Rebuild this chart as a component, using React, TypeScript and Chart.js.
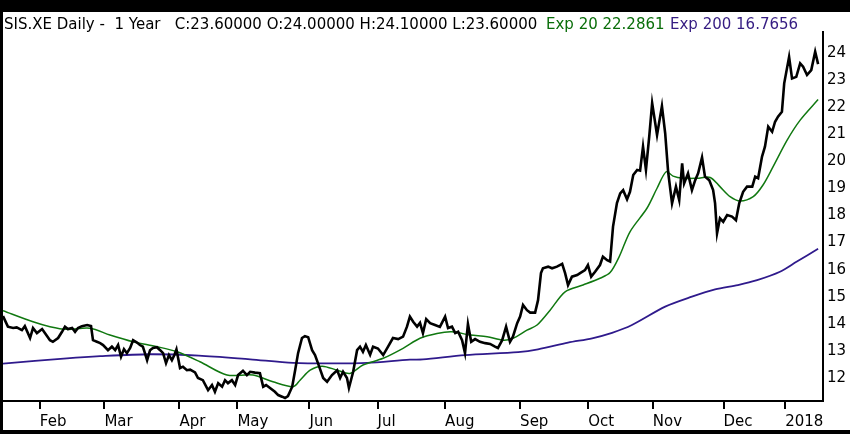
import { useEffect, useRef } from "react";
import Chart from "chart.js/auto";

// trading-day index (0 = first bar of the year window) and close price
const closeDay = [
  0, 1.5, 3.1, 4.2, 5.8, 6.7, 8.3, 9.2, 10.4, 12.0, 12.9, 14.4, 15.3, 16.9, 18.1,
  19.0, 19.9, 21.2, 22.1, 23.0, 24.2, 25.8, 27.0, 27.6, 28.8, 29.8, 30.7, 32.2,
  33.4, 34.4, 35.3, 36.2, 37.1, 38.0, 39.0, 39.9, 41.1, 42.0, 42.9, 44.2, 45.1,
  46.0, 47.2, 48.2, 49.1, 50.0, 50.9, 51.8, 52.6, 53.2, 54.3, 55.2, 56.4, 57.4,
  58.9, 59.8, 61.3, 62.9, 64.1, 65.0, 66.0, 67.2, 68.1, 69.0, 70.2, 71.2, 72.1,
  73.6, 74.8, 75.8, 77.3, 78.8, 79.8, 80.7, 81.9, 83.4, 84.4, 85.6, 86.5, 87.4,
  88.7, 89.6, 90.5, 91.7, 92.6, 93.6, 94.8, 95.7, 96.6, 98.2, 99.4, 100.9, 102.5,
  103.4, 104.3, 105.5, 106.1, 107.4, 108.6, 109.5, 110.4, 111.3, 112.6, 113.5,
  115.0, 116.6, 118.1, 119.6, 121.2, 122.7, 123.9, 124.8, 125.8, 127.0, 127.9,
  128.8, 129.8, 131.0, 132.5, 134.0, 135.6, 136.5, 137.7, 138.7, 139.6, 140.8,
  141.7, 142.6, 143.6, 144.8, 146.3, 147.9, 149.4, 150.9, 151.8, 153.1, 154.3,
  155.5, 156.4, 157.7, 158.6, 159.5, 160.7, 161.7, 163.2, 164.1, 165.0, 165.6,
  167.2, 168.4, 169.9, 171.5, 172.4, 173.3, 174.5, 176.1, 177.0, 178.5, 179.4,
  180.4, 181.6, 183.1, 184.0, 185.3, 186.2, 187.1, 188.3, 189.3, 190.2, 191.4,
  192.3, 193.3, 194.5, 195.4, 196.3, 197.2, 198.2, 199.1, 200.6, 201.2, 202.1,
  203.1, 204.0, 205.2, 206.4, 207.4, 208.3, 208.9, 210.1, 211.3, 212.3, 213.2,
  214.4, 215.3, 216.6, 217.8, 218.4, 219.0, 219.9, 220.9, 222.1, 223.6, 224.8,
  225.8, 227.0, 228.2, 229.8, 230.7, 231.6, 232.8, 233.7, 234.7, 235.9, 236.8,
  237.7, 238.9, 239.6, 241.1, 242.0, 243.3, 244.5, 245.4, 246.6, 247.9, 249.1,
  250.0,
];
const closeValue = [
  14.28, 13.89, 13.84, 13.86, 13.76, 13.91, 13.47, 13.84, 13.65, 13.8, 13.65,
  13.39, 13.33, 13.47, 13.7, 13.89, 13.8, 13.84, 13.7, 13.84, 13.91, 13.95, 13.91,
  13.39, 13.33, 13.28, 13.21, 13.02, 13.15, 13.02, 13.21, 12.78, 13.06, 12.91,
  13.1, 13.39, 13.3, 13.21, 13.15, 12.65, 13.02, 13.1, 13.13, 13.02, 12.91, 12.54,
  12.84, 12.65, 12.85, 13.05, 12.36, 12.41, 12.28, 12.3, 12.2, 11.99, 11.91, 11.54,
  11.73, 11.48, 11.8, 11.67, 11.91, 11.8, 11.91, 11.73, 12.1, 12.26, 12.1, 12.22,
  12.19, 12.17, 11.67, 11.73, 11.62, 11.48, 11.36, 11.3, 11.25, 11.32, 11.67,
  12.28, 12.91, 13.47, 13.54, 13.5, 13.02, 12.84, 12.54, 11.99, 11.85, 12.1, 12.28,
  11.99, 12.22, 11.99, 11.62, 12.22, 13.02, 13.15, 12.96, 13.21, 12.85, 13.15,
  13.08, 12.84, 13.15, 13.47, 13.43, 13.52, 13.89, 14.26, 14.07, 13.89, 14.03,
  13.65, 14.17, 14.02, 13.95, 13.88, 14.26, 13.84, 13.89, 13.65, 13.7, 13.39,
  12.91, 13.99, 13.33, 13.43, 13.33, 13.28, 13.25, 13.15, 13.1, 13.39, 13.89,
  13.33, 13.52, 14.02, 14.26, 14.69, 14.5, 14.41, 14.41, 14.87, 15.87, 16.05,
  16.11, 16.05, 16.11, 16.21, 15.87, 15.43, 15.74, 15.8, 15.87, 15.98, 16.17,
  15.74, 15.92, 16.17, 16.48, 16.35, 16.3, 17.59, 18.46, 18.82, 18.94, 18.6, 18.88,
  19.5, 19.69, 19.66, 20.55, 19.69, 20.92, 22.16, 20.98, 21.41, 22.05, 21.04,
  19.62, 18.45, 19.07, 18.57, 19.93, 19.19, 19.56, 18.94, 19.31, 19.56, 20.15,
  19.44, 19.31, 18.94, 18.45, 17.34, 17.9, 17.77, 18.02, 17.96, 17.83, 18.45,
  18.88, 19.07, 19.07, 19.44, 19.38, 20.18, 20.55, 21.29, 21.1, 21.47, 21.66,
  21.84, 22.89, 23.87, 23.07, 23.13, 23.63, 23.51, 23.2, 23.38, 24.06, 23.6,
];

const ema20Day = [
  0, 9.2, 14.4, 19.6, 26.7, 32.8, 39.9, 47.2, 53.4, 60.4, 68.7, 76.7, 82.8, 89.0,
  91.1, 94.2, 97.9, 102.5, 106.4, 110.4, 116.6, 122.7, 127.9, 133.1, 137.7, 143.3,
  148.5, 153.4, 156.4, 160.7, 163.8, 167.8, 172.4, 177.9, 183.1, 186.2, 189.0,
  192.3, 197.5, 200.6, 203.4, 205.5, 208.6, 212.9, 216.9, 219.9, 223.0, 226.1,
  230.1, 233.1, 236.2, 240.5, 244.5, 250.0,
];
const ema20Value = [
  14.48, 14.07, 13.89, 13.79, 13.83, 13.58, 13.33, 13.15, 12.96, 12.59, 12.1, 12.1,
  11.85, 11.67, 11.91, 12.28, 12.43, 12.28, 12.16, 12.47, 12.72, 13.09, 13.46,
  13.64, 13.7, 13.58, 13.52, 13.39, 13.46, 13.76, 13.95, 14.5, 15.18, 15.43, 15.68,
  15.89, 16.48, 17.4, 18.27, 19.01, 19.62, 19.46, 19.38, 19.38, 19.41, 19.07, 18.7,
  18.54, 18.7, 19.13, 19.81, 20.79, 21.53, 22.29,
];

const ema200Day = [
  0, 19.6, 29.8, 45.1, 60.1, 75.8, 89.0, 101.2, 111.7, 124.8, 128.8, 141.7, 158.0,
  164.1, 173.3, 180.7, 186.8, 192.9, 203.1, 211.3, 218.4, 225.4, 231.3, 238.3,
  243.5, 250.0,
];
const ema200Value = [
  12.52, 12.72, 12.8, 12.87, 12.82, 12.68, 12.55, 12.53, 12.55, 12.67, 12.68,
  12.84, 12.95, 13.05, 13.3, 13.46, 13.66, 13.95, 14.63, 15.0, 15.27, 15.43, 15.61,
  15.92, 16.3, 16.77,
];

const monthTickDay = [11.3, 31.1, 54.1, 71.9, 94.0, 114.9, 135.6, 158.6, 179.5, 199.3, 221.0, 239.9];
const monthLabel = ["Feb", "Mar", "Apr", "May", "Jun", "Jul", "Aug", "Sep", "Oct", "Nov", "Dec", "2018"];
const priceTicks = [12, 13, 14, 15, 16, 17, 18, 19, 20, 21, 22, 23, 24];

const headerParts = [
  { text: "SIS.XE Daily -  1 Year   C:23.60000 O:24.00000 H:24.10000 L:23.60000", color: "#000000", x: 1 },
  { text: "Exp 20 22.2861", color: "#0a6e0a", x: 543 },
  { text: "Exp 200 16.7656", color: "#351c82", x: 667 },
];

const FONT = '"DejaVu Sans", sans-serif';

function toPoints(days: number[], values: number[]) {
  return days.map((d, i) => ({ x: d, y: values[i] }));
}

const headerPlugin = {
  id: "header",
  afterDraw(chart: Chart) {
    const ctx = chart.ctx;
    ctx.save();
    ctx.font = `15px ${FONT}`;
    ctx.textAlign = "left";
    ctx.textBaseline = "alphabetic";
    headerParts.forEach((part) => {
      ctx.fillStyle = part.color;
      ctx.fillText(part.text, part.x, 17);
    });
    ctx.restore();
  },
};

export default function App() {
  const canvasRef = useRef<HTMLCanvasElement>(null);

  useEffect(() => {
    document.body.style.margin = "0";
    if (!canvasRef.current) return;

    const chart = new Chart(canvasRef.current, {
      type: "line",
      data: {
        datasets: [
          {
            label: "Close",
            data: toPoints(closeDay, closeValue),
            borderColor: "#000000",
            borderWidth: 2.6,
            pointRadius: 0,
            tension: 0,
          },
          {
            label: "Exp 20",
            data: toPoints(ema20Day, ema20Value),
            borderColor: "#107810",
            borderWidth: 1.5,
            pointRadius: 0,
            tension: 0.3,
          },
          {
            label: "Exp 200",
            data: toPoints(ema200Day, ema200Value),
            borderColor: "#2f1a8c",
            borderWidth: 1.8,
            pointRadius: 0,
            tension: 0.3,
          },
        ],
      },
      options: {
        animation: false,
        responsive: true,
        maintainAspectRatio: false,
        layout: { padding: { top: 20, left: 0, right: 0, bottom: 0 } },
        plugins: {
          legend: { display: false },
          tooltip: { enabled: false },
        },
        scales: {
          x: {
            type: "linear",
            min: 0,
            max: 251.5,
            afterBuildTicks: (scale) => {
              scale.ticks = monthTickDay.map((v) => ({ value: v }));
            },
            afterFit: (scale) => {
              scale.height = 29;
            },
            ticks: {
              autoSkip: false,
              align: "start",
              maxRotation: 0,
              padding: 4,
              color: "#000000",
              font: { family: FONT, size: 15 },
              callback: (_value, index) => monthLabel[index],
            },
            grid: {
              drawOnChartArea: false,
              drawTicks: true,
              tickLength: 8,
              color: "#000000",
              lineWidth: 2,
            },
            border: { display: true, color: "#000000", width: 2 },
          },
          y: {
            type: "linear",
            position: "right",
            min: 11.14,
            max: 24.79,
            afterBuildTicks: (scale) => {
              scale.ticks = priceTicks.map((v) => ({ value: v }));
            },
            afterFit: (scale) => {
              scale.width = 27;
            },
            ticks: {
              padding: 4,
              color: "#000000",
              font: { family: FONT, size: 15 },
              callback: (value) => String(value),
            },
            grid: { display: false, drawTicks: false },
            border: { display: true, color: "#000000", width: 2 },
          },
        },
      },
      plugins: [headerPlugin],
    });

    return () => chart.destroy();
  }, []);

  return (
    <div
      style={{
        width: 850,
        height: 434,
        boxSizing: "border-box",
        background: "#000000",
        padding: "12px 0 4px 3px",
      }}
    >
      <div style={{ width: 847, height: 418, background: "#ffffff", position: "relative" }}>
        <canvas ref={canvasRef}></canvas>
      </div>
    </div>
  );
}
